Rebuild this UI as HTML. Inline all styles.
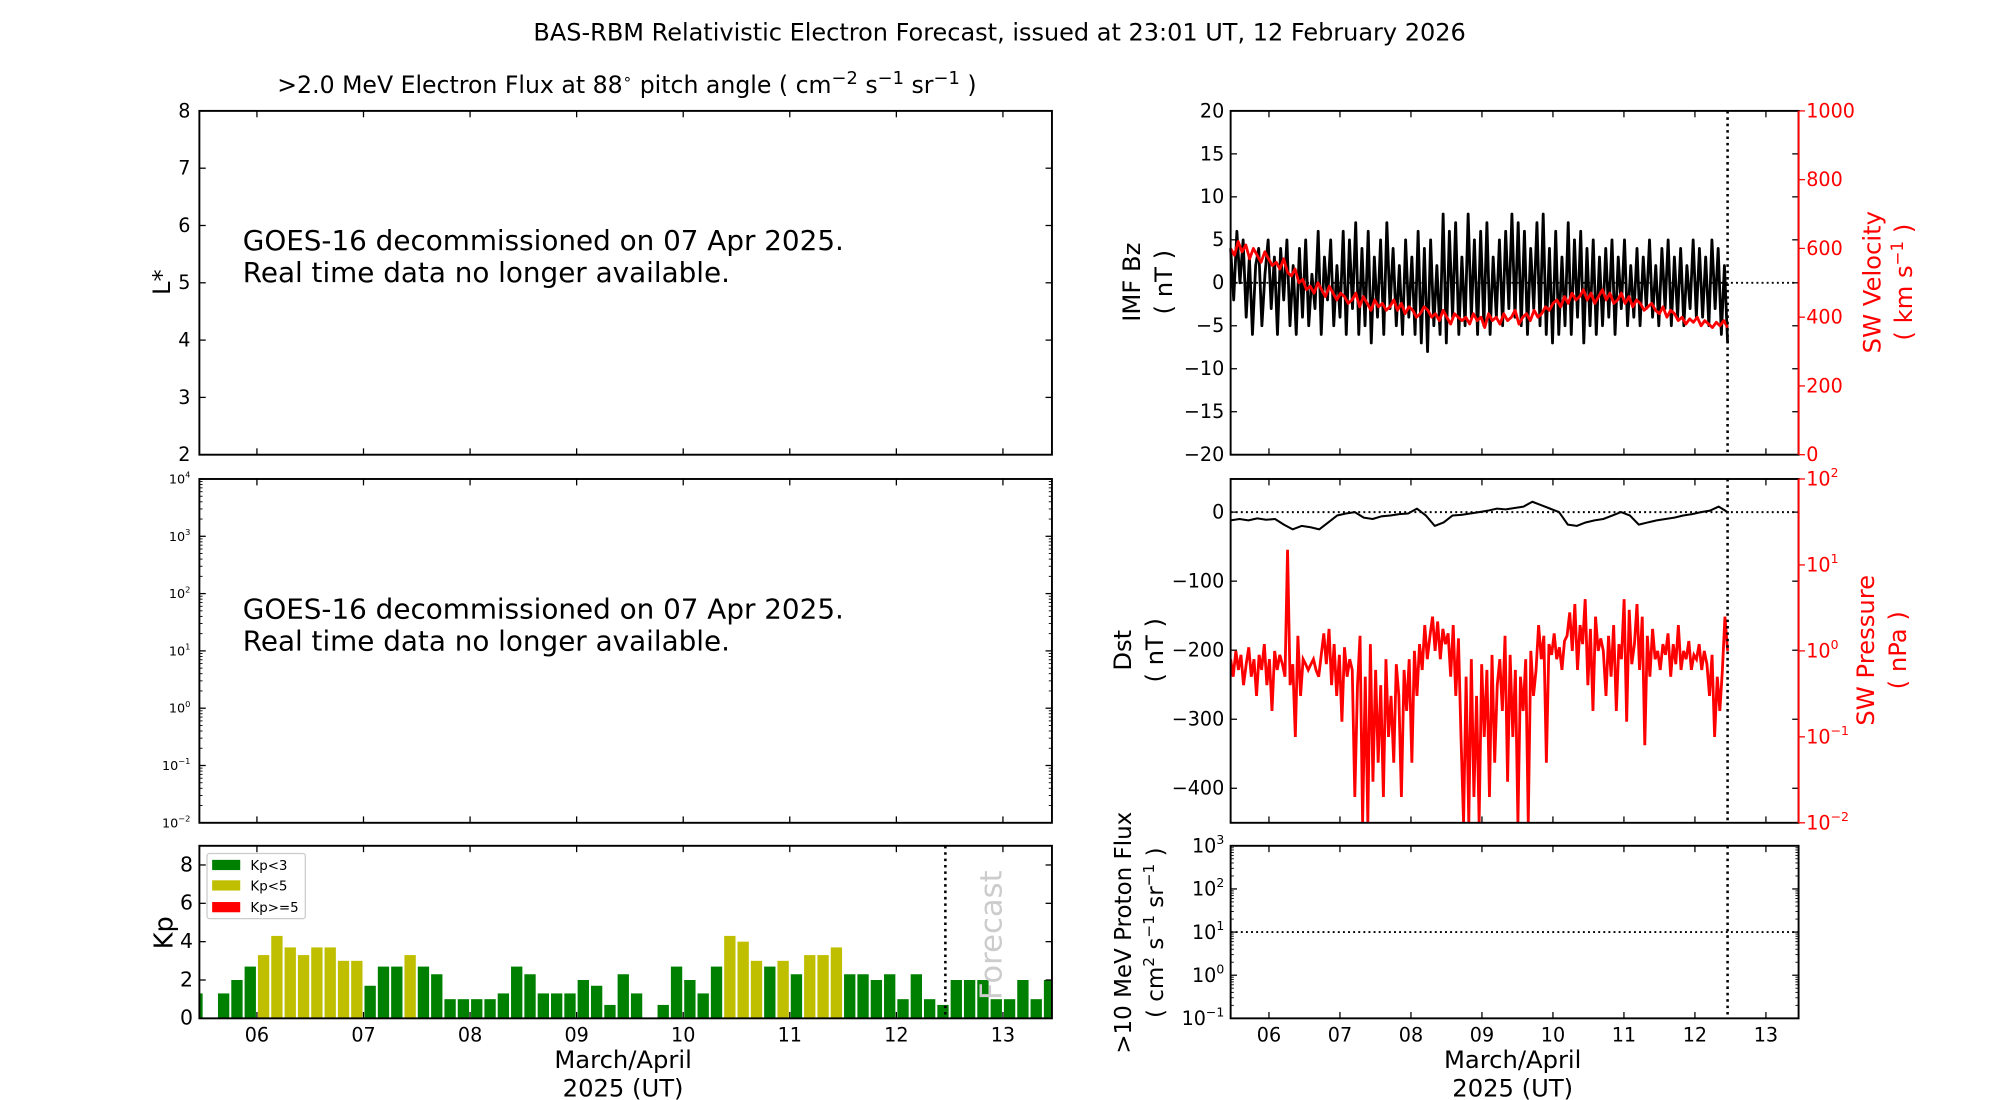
<!DOCTYPE html>
<html><head><meta charset="utf-8"><style>
html,body{margin:0;padding:0;background:#fff}
svg{display:block}
text{font-family:"DejaVu Sans","Liberation Sans",sans-serif}
</style></head><body>
<svg id="c" xmlns="http://www.w3.org/2000/svg" width="2000" height="1100" viewBox="0 0 2000 1100">
<g id="g" transform="translate(-1,-0.3) scale(1.2763,1.2781)">
<text x="784" y="32" font-size="18.8" text-anchor="middle">BAS-RBM Relativistic Electron Forecast, issued at 23:01 UT, 12 February 2026</text>
<text x="492" y="73" font-size="18.5" text-anchor="middle">&gt;2.0 MeV Electron Flux at 88<tspan dy="-7" font-size="12">∘</tspan><tspan dy="7"> pitch angle ( cm</tspan><tspan dy="-7" font-size="14">−2</tspan><tspan dy="7"> s</tspan><tspan dy="-7" font-size="14">−1</tspan><tspan dy="7"> sr</tspan><tspan dy="-7" font-size="14">−1</tspan><tspan dy="7"> )</tspan></text>
</g>
</svg>
<script>
// ---------- data ----------
const tStart = 5.46, tEnd = 13.46, forecastT = 12.46;
const dayTicks = [6,7,8,9,10,11,12,13];
const dayLabels = ["06","07","08","09","10","11","12","13"];
const kpFirstCenter = 5.4375;
const kpValues = [1.3,0,1.3,2.0,2.7,3.3,4.3,3.7,3.3,3.7,3.7,3.0,3.0,1.7,2.7,2.7,3.3,2.7,2.3,1.0,1.0,1.0,1.0,1.3,2.7,2.3,1.3,1.3,1.3,2.0,1.7,0.7,2.3,1.3,0,0.7,2.7,2.0,1.3,2.7,4.3,4.0,3.0,2.7,3.0,2.3,3.3,3.3,3.7,2.3,2.3,2.0,2.3,1.0,2.3,1.0,0.7,2.0,2.0,2.0,1.0,1.0,2.0,1.0,2.0];
const kpTicks = [0,2,4,6,8];
const bzValues = [4,-2,6,0,5,-4,3,-6,2,4,-5,1,5,-3,3,-6,4,-2,5,-5,
2,-6,4,-4,5,-5,1,-3,6,-6,3,-2,5,-5,2,-4,6,-6,5,-3,
7,-6,4,-5,6,-7,3,-4,5,-6,7,-3,4,-5,2,-6,5,-4,3,-6,
6,-7,4,-8,5,-5,2,-6,8,-7,6,-4,7,-6,3,-5,8,-4,5,-6,
6,-5,7,-6,3,-4,5,-5,6,-3,8,-4,7,-5,6,-6,4,-3,7,-5,
8,-6,4,-7,6,-6,3,-5,7,-6,5,-4,6,-7,4,-5,5,-6,3,-5,
4,-4,5,-6,3,-3,5,-5,2,-4,4,-5,3,-3,5,-4,2,-5,4,-3,
5,-5,3,-4,4,-5,2,-3,5,-4,4,-4,3,-5,5,-3,4,-6,2,-7];
const vValues = [600,580,620,590,610,570,600,580,560,590,570,550,560,540,570,530,520,540,500,510,480,490,
470,500,480,460,490,470,450,470,460,440,450,470,430,460,440,420,450,430,440,420,
430,450,420,440,410,430,420,400,410,430,420,400,410,390,420,400,380,410,400,390,
400,380,410,390,400,370,410,390,400,380,410,390,400,420,380,400,410,390,420,400,
410,430,420,440,450,430,460,440,470,450,460,480,450,470,440,460,480,450,470,440,
450,470,440,460,430,450,440,420,430,440,420,410,430,400,420,410,390,400,380,395,
385,400,375,390,380,370,385,375,390,370];
const bzTicks = [-20,-15,-10,-5,0,5,10,15,20];
const vTicks = [0,200,400,600,800,1000];
const dstValues = [-12,-10,-12,-9,-11,-10,-18,-25,-20,-22,-25,-15,-5,-2,0,-8,-10,-6,-5,-3,-2,5,-5,-20,-15,-5,-4,-2,0,2,5,4,6,8,15,10,5,0,-18,-20,-15,-12,-10,-5,0,-5,-18,-15,-12,-10,-8,-5,-3,0,2,8,0];
const dstTicks = [0,-100,-200,-300,-400];
const pValues = [0.8,0.5,1.0,0.6,0.9,0.4,0.7,1.1,0.5,0.8,0.3,0.9,0.6,1.2,0.4,0.8,0.2,1.0,0.6,0.9,0.7,
0.5,15,0.4,0.7,0.1,1.5,0.3,0.8,0.7,0.6,
0.7,0.8,0.6,0.5,0.9,1.6,0.7,1.8,0.4,1.2,0.3,0.9,0.15,1.1,0.5,0.8,
0.6,0.02,0.4,1.5,0.01,0.5,0.01,1.2,0.03,0.6,0.05,0.4,0.02,0.8,0.1,0.3,0.05,0.7,
0.3,0.02,0.6,0.2,0.8,0.05,1.0,0.3,1.2,0.6,2.0,0.8,
1.5,2.5,1.0,2.2,0.8,1.8,1.2,1.6,0.5,2.0,0.3,1.4,0.1,
0.01,0.5,0.01,0.8,0.02,0.3,0.01,0.7,0.1,0.6,0.02,0.9,0.05,0.4,
0.8,0.2,1.5,0.03,0.9,0.1,0.6,0.01,0.5,0.2,0.8,0.01,1.0,0.3,
0.6,2.0,0.8,1.5,0.05,1.2,0.9,1.6,0.8,1.1,0.6,1.3,
1.5,2.8,1.0,3.5,0.6,2.0,1.2,4.0,0.4,1.8,0.2,2.5,1.0,1.4,
1.0,0.3,1.5,0.5,2.0,0.2,1.2,0.8,4.0,0.15,3.0,0.7,
1.2,3.5,0.6,2.5,0.08,1.5,0.5,1.8,0.8,1.0,0.6,1.2,
0.9,1.6,0.5,1.2,0.7,2.0,0.6,1.0,0.8,1.3,0.6,0.9,
0.8,1.2,0.6,1.0,0.7,0.3,0.9,0.1,0.5,0.2,0.6,2.5,1.0];
const lTicks = [2,3,4,5,6,7,8];
const fluxExp = [4,3,2,1,0,-1,-2];
const protonExp = [3,2,1,0,-1];

// ---------- helpers ----------
const NS = "http://www.w3.org/2000/svg";
const G = document.getElementById('g');
function el(tag, attrs, parent, txt){
  const e = document.createElementNS(NS, tag);
  for (const k in attrs) e.setAttribute(k, attrs[k]);
  if (txt !== undefined) e.textContent = txt;
  (parent || G).appendChild(e);
  return e;
}
function lin(d0,d1,r0,r1){ return v => r0 + (v-d0)/(d1-d0)*(r1-r0); }
function logS(e0,e1,r0,r1){ return v => r0 + (Math.log10(v)-e0)/(e1-e0)*(r1-r0); }
const L = {x0:157,x1:825}, R = {x0:965,x1:1410};
const P1 = {y0:87,y1:356}, P2 = {y0:375,y1:644}, P3 = {y0:662,y1:797};
const xL = lin(tStart,tEnd,L.x0,L.x1), xR = lin(tStart,tEnd,R.x0,R.x1);
const TF = 15;

function frame(name,x0,x1,y0,y1){
  const r = el('rect',{x:x0,y:y0,width:x1-x0,height:y1-y0,fill:'none',stroke:'#000','stroke-width':1.5});
  
  
}
function xTicks(xs,y0,y1,labels){
  dayTicks.forEach((d,i)=>{
    const x = xs(d);
    el('line',{x1:x,x2:x,y1:y1,y2:y1-5,stroke:'#000','stroke-width':1});
    el('line',{x1:x,x2:x,y1:y0,y2:y0+5,stroke:'#000','stroke-width':1});
    if(labels){
      const t = el('text',{x:x,y:y1+18,'font-size':TF,'text-anchor':'middle'},null,dayLabels[i]);
      
      
    }
  });
}
function yLinTicks(ticks,ys,x0,x1,labelX,color,anchor,size){
  ticks.forEach(v=>{
    const y = ys(v);
    el('line',{x1:x0,x2:x0+5,y1:y,y2:y,stroke:'#000'});
    el('line',{x1:x1,x2:x1-5,y1:y,y2:y,stroke:'#000'});
    if(labelX!==null){
      const t = el('text',{x:labelX,y:y+5,'font-size':size||TF,'text-anchor':anchor||'end',fill:color||'#000'},null,String(v).replace('-','−'));
      
      
    }
  });
}
function logTicks(exps,ys,x0,x1,labelX,color,size,right){
  exps.forEach((e,i)=>{
    const y = ys(Math.pow(10,e));
    if(!right){
      el('line',{x1:x0,x2:x0+5,y1:y,y2:y,stroke:'#000'}); el('line',{x1:x1,x2:x1-5,y1:y,y2:y,stroke:'#000'});
      if(i>0){ for(let m=2;m<10;m++){ const ym=ys(m*Math.pow(10,e)); el('line',{x1:x0,x2:x0+2.5,y1:ym,y2:ym,stroke:'#000','stroke-width':0.7}); el('line',{x1:x1,x2:x1-2.5,y1:ym,y2:ym,stroke:'#000','stroke-width':0.7}); } }
    }
    else el('line',{x1:x1,x2:x1+5,y1:y,y2:y,stroke:color});
    const t = el('text',{x:labelX,y:y+size*0.35,'font-size':size,'text-anchor':right?'start':'end',fill:color||'#000'});
    
    
    el('tspan',{},t,'10');
    el('tspan',{dy:-size*0.45,'font-size':size*0.65},t,String(e).replace('-','−'));
  });
}
function ylabel(name,x,y,lines,color,size){
  const t = el('text',{transform:`translate(${x},${y}) rotate(-90)`,'text-anchor':'middle','font-size':size||19,fill:color||'#000'});
  
  
  lines.forEach((l,i)=>{ const s=el('tspan',{x:0,dy:i?25:0},t); s.innerHTML=l; });
}
function vdotted(x,y0,y1){ el('line',{x1:x,x2:x,y1:y0,y2:y1,stroke:'#000','stroke-width':2,'stroke-dasharray':'2,3'}); }
function hdotted(x0,x1,y){ el('line',{x1:x0,x2:x1,y1:y,y2:y,stroke:'#000','stroke-width':1.5,'stroke-dasharray':'1.5,2.5'}); }
function series(name,vals,xs,ys,color,t0,t1,w){
  const step=(t1-t0)/(vals.length-1);
  const pts = vals.map((v,i)=>xs(t0+i*step).toFixed(1)+','+ys(v).toFixed(1)).join(' ');
  const p = el('polyline',{points:pts,fill:'none',stroke:color,'stroke-width':w||1.5,'stroke-linejoin':'round'});
  
  
}

// ---------- left panel 1: L* ----------
const yL = lin(2,8,P1.y1,P1.y0);
xTicks(xL,P1.y0,P1.y1,false);
yLinTicks(lTicks,yL,L.x0,L.x1,150);
frame('lstar-panel',L.x0,L.x1,P1.y0,P1.y1);
ylabel('lstar-axis-title',134,221,['L*']);
[['GOES-16 decommissioned on 07 Apr 2025.',196],['Real time data no longer available.',221]].forEach(a=>{
  const t=el('text',{x:191,y:a[1],'font-size':21.8},null,a[0]);
  
  
});
// ---------- left panel 2: flux ----------
const yF = logS(-2,4,P2.y1,P2.y0);
xTicks(xL,P2.y0,P2.y1,false);
logTicks(fluxExp,yF,L.x0,L.x1,150,'#000',10);
frame('flux-panel',L.x0,L.x1,P2.y0,P2.y1);
[['GOES-16 decommissioned on 07 Apr 2025.',484],['Real time data no longer available.',509]].forEach(a=>{
  const t=el('text',{x:191,y:a[1],'font-size':21.8},null,a[0]);
  
  
});
// ---------- left panel 3: Kp ----------
const yK = lin(0,9,P3.y1,P3.y0);
const kpW = 0.125*0.85;
const kpClip = el('clipPath',{id:'kpclip'}); el('rect',{x:L.x0,y:P3.y0,width:L.x1-L.x0,height:P3.y1-P3.y0},kpClip);
const kpG = el('g',{'clip-path':'url(#kpclip)'});
kpValues.forEach((v,i)=>{
  const c = kpFirstCenter + i*0.125;
  const xa = xL(c-kpW/2), xb = xL(c+kpW/2);
  const r = el('rect',{x:xa,y:yK(v),width:xb-xa,height:yK(0)-yK(v),fill: v<3?'#008000':(v<5?'#bfbf00':'#ff0000')},kpG);
  
  
});
xTicks(xL,P3.y0,P3.y1,true);
yLinTicks(kpTicks,yK,L.x0,L.x1,152,'#000','end',16);
vdotted(xL(forecastT),P3.y0,P3.y1);
frame('kp-panel',L.x0,L.x1,P3.y0,P3.y1);
ylabel('kp-axis-title',136,730,['Kp'],'#000',20);
const fc = el('text',{transform:`translate(${xL(forecastT)+44},732) rotate(-90)`,'text-anchor':'middle','font-size':24,fill:'#cccccc'},null,'Forecast');
 
const lg = el('g',{});
 
el('rect',{x:163,y:668,width:77,height:51,fill:'#fff',stroke:'#ccc',rx:2},lg);
[['Kp<3','#008000',677],['Kp<5','#bfbf00',693],['Kp>=5','#ff0000',710]].forEach(a=>{
  el('rect',{x:167,y:a[2]-4,width:22,height:8,fill:a[1]},lg);
  el('text',{x:197,y:a[2]+4,'font-size':10.5},lg,a[0]);
});
// x-axis titles
[[489],[1186]].forEach(a=>{
  const t1=el('text',{x:a[0],y:836,'font-size':19,'text-anchor':'middle'},null,'March/April');
   
  const t2=el('text',{x:a[0],y:858,'font-size':19,'text-anchor':'middle'},null,'2025 (UT)');
   
});

// ---------- right panel 1: Bz / V ----------
const yBz = lin(-20,20,P1.y1,P1.y0), yV = lin(0,1000,P1.y1,P1.y0);
xTicks(xR,P1.y0,P1.y1,false);
yLinTicks(bzTicks,yBz,R.x0,R.x1,960);
vTicks.forEach(v=>{ const y=yV(v); el('line',{x1:R.x1,x2:R.x1+5,y1:y,y2:y,stroke:'#f00'});
  const t=el('text',{x:1416,y:y+5,'font-size':TF,fill:'#f00'},null,String(v));   });
hdotted(R.x0,R.x1,yBz(0));
series('imf-bz-line',bzValues,xR,yBz,'#000',tStart,forecastT,2.2);
series('sw-velocity-line',vValues,xR,yV,'#f00',tStart,forecastT,2.2);
vdotted(xR(forecastT),P1.y0,P1.y1);
frame('imf-panel',R.x0,R.x1,P1.y0,P1.y1);
el('line',{x1:R.x1,x2:R.x1,y1:P1.y0,y2:P1.y1,stroke:'#f00','stroke-width':1.5});
ylabel('imf-bz-axis-title',894,221,['IMF Bz','( nT )']);
ylabel('sw-velocity-axis-title',1474,221,['SW Velocity','( km s<tspan dy="-7" font-size="13">−1</tspan><tspan dy="7"> )</tspan>'],'#f00');

// ---------- right panel 2: Dst / pressure ----------
const yD = lin(-450,48,P2.y1,P2.y0), yP = logS(-2,2,P2.y1,P2.y0);
xTicks(xR,P2.y0,P2.y1,false);
yLinTicks(dstTicks,yD,R.x0,R.x1,960);
const pClip = el('clipPath',{id:'pclip'}); el('rect',{x:R.x0,y:P2.y0,width:R.x1-R.x0,height:P2.y1-P2.y0},pClip);
const pg = el('g',{'clip-path':'url(#pclip)'});
hdotted(R.x0,R.x1,yD(0));
{ const step=(forecastT-tStart)/(pValues.length-1);
  const pts=pValues.map((v,i)=>xR(tStart+i*step).toFixed(1)+','+yP(Math.max(v,0.005)).toFixed(1)).join(' ');
  const p=el('polyline',{points:pts,fill:'none',stroke:'#f00','stroke-width':2.2},pg);
    }
series('dst-line',dstValues,xR,yD,'#000',tStart,forecastT,1.6);
vdotted(xR(forecastT),P2.y0,P2.y1);
frame('dst-panel',R.x0,R.x1,P2.y0,P2.y1);
el('line',{x1:R.x1,x2:R.x1,y1:P2.y0,y2:P2.y1,stroke:'#f00','stroke-width':1.5});
logTicks([2,1,0,-1,-2],yP,R.x0,R.x1,1416,'#f00',TF,true);
ylabel('dst-axis-title',887,509,['Dst','( nT )']);
ylabel('sw-pressure-axis-title',1469,509,['SW Pressure','( nPa )'],'#f00');

// ---------- right panel 3: proton flux ----------
const yPr = logS(-1,3,P3.y1,P3.y0);
xTicks(xR,P3.y0,P3.y1,true);
logTicks(protonExp,yPr,R.x0,R.x1,960,'#000',TF);
hdotted(R.x0,R.x1,yPr(10));
vdotted(xR(forecastT),P3.y0,P3.y1);
frame('proton-panel',R.x0,R.x1,P3.y0,P3.y1);
ylabel('proton-flux-axis-title',887,730,['&gt;10 MeV Proton Flux','( cm<tspan dy="-7" font-size="12">2</tspan><tspan dy="7"> s</tspan><tspan dy="-7" font-size="12">−1</tspan><tspan dy="7"> sr</tspan><tspan dy="-7" font-size="12">−1</tspan><tspan dy="7"> )</tspan>'],'#000',18);
</script>
</body></html>
